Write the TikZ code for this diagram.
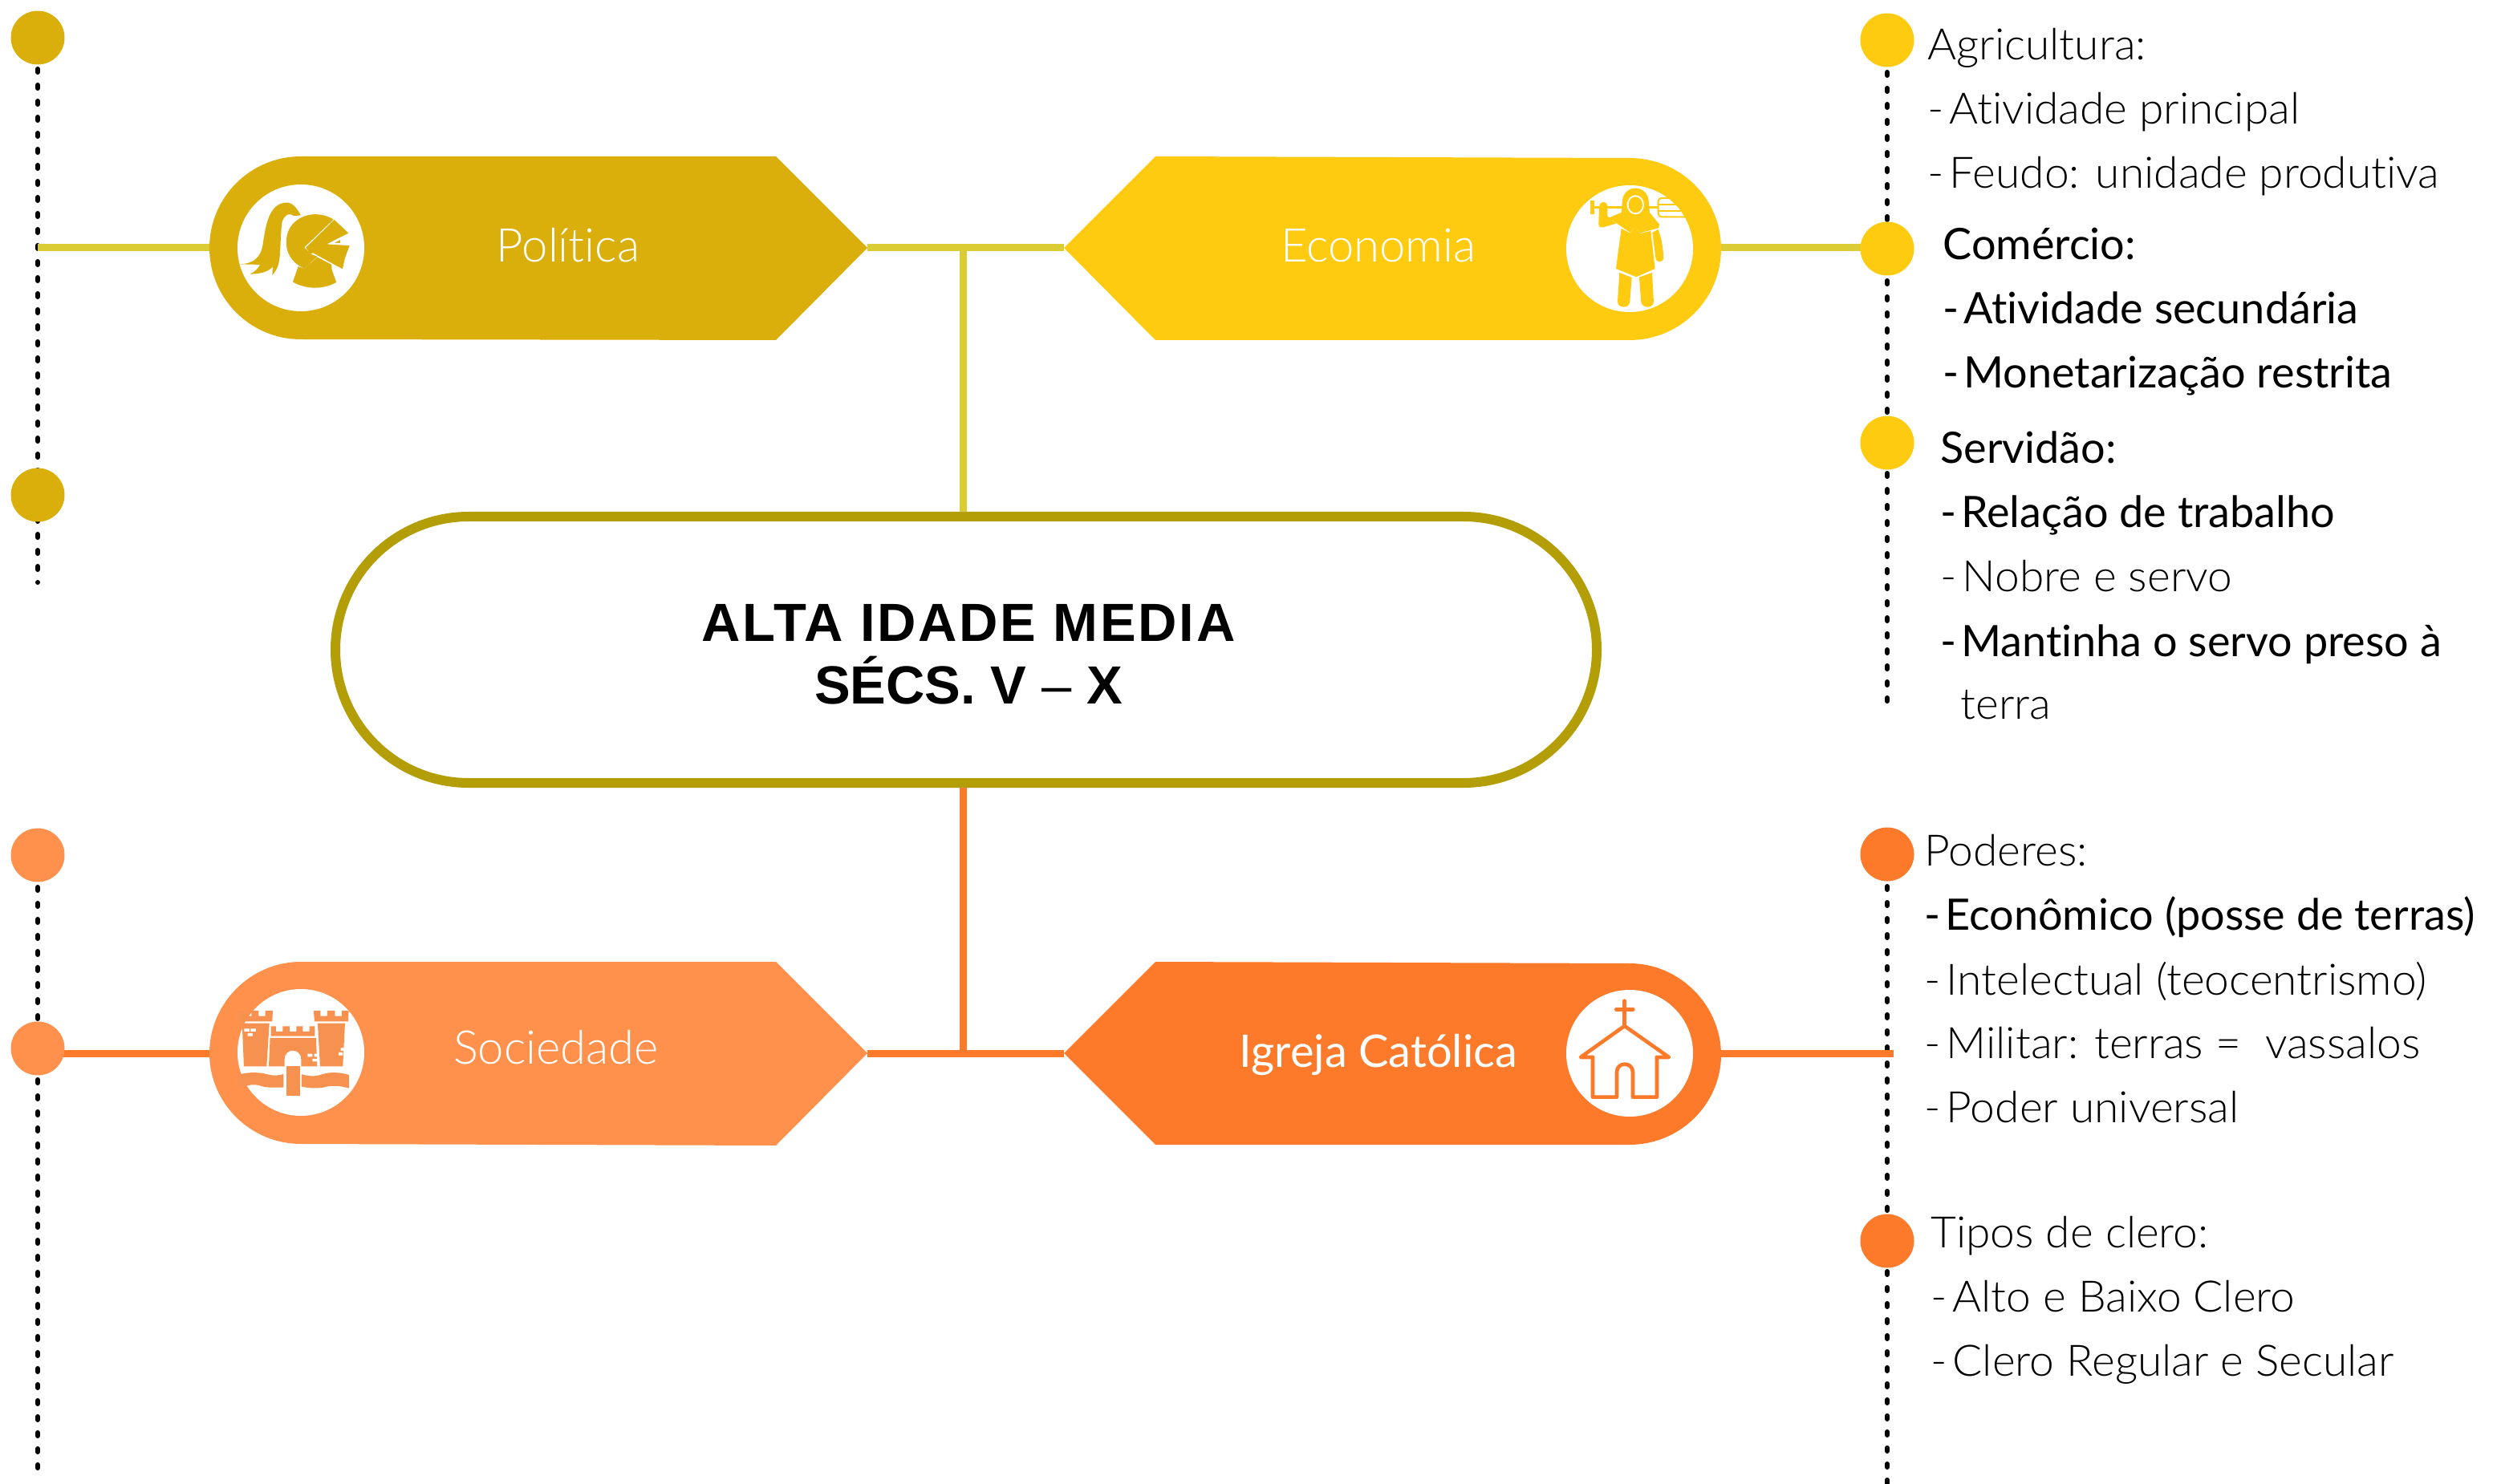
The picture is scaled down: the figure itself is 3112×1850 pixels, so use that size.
\documentclass[tikz,border=0pt]{standalone}
\usepackage{fontspec}
\setmainfont{Lato Light}
\newfontfamily\lightf[Ligatures=NoCommon,FakeStretch=1.02]{Lato Light}
\newfontfamily\labf[Ligatures=NoCommon]{Lato Light}
\newfontfamily\medf[Ligatures=NoCommon]{Lato}
\newfontfamily\titlef{Liberation Sans Bold}
\newfontfamily\titlew[LetterSpace=4]{Liberation Sans Bold}
\newfontfamily\titled{Liberation Sans}
\newcommand{\hy}{-\kern-4pt\ }
\definecolor{gold}{HTML}{DAAF0C}
\definecolor{amber}{HTML}{FFCB11}
\definecolor{peach}{HTML}{FF914D}
\definecolor{orng}{HTML}{FD7A2B}
\definecolor{olive}{HTML}{B39E08}
\definecolor{lineyel}{HTML}{DBCC33}
\definecolor{castle}{HTML}{F6914F}
\tikzset{
  conn/.style={line width=4.5pt},
  dots/.style={line width=3pt,black,line cap=round,dash pattern=on 2pt off 8pt},
  dot/.style={circle,minimum size=33.5pt,inner sep=0pt,fill=#1},
  disc/.style={circle,minimum size=79pt,inner sep=0pt,fill=white},
  lab/.style={text=white,font=\labf\fontsize{29}{31}\selectfont,inner sep=0pt},
  line/.style={anchor=base west,inner sep=0pt,text=black,font=\lightf\fontsize{27}{30}\selectfont},
  mline/.style={anchor=base west,inner sep=0pt,text=black,font=\medf\fontsize{27}{30}\selectfont},
  ttl/.style={anchor=base,inner sep=0pt,text=black,font=\titlef\fontsize{33.5}{36}\selectfont},
  main/.style={rounded rectangle,draw=olive,line width=6pt,fill=white,minimum width=786pt,minimum height=166pt,inner sep=0pt}
}
\usetikzlibrary{shapes.misc}
\begin{document}
\begin{tikzpicture}[x=0.5pt,y=-0.5pt]
\useasboundingbox (0,0) rectangle (3112,1850);
% anchor coordinates
\coordinate (ltA) at (47,46); \coordinate (ltB) at (47,726);
\coordinate (lbA) at (47,1066); \coordinate (lbB) at (47,1830);
\coordinate (rtA) at (2352,50); \coordinate (rtB) at (2352,884);
\coordinate (rbA) at (2352,1065); \coordinate (rbB) at (2352,1855);
\coordinate (jt) at (1200,309); \coordinate (jb) at (1200,1313);
\coordinate (polL) at (261,309); \coordinate (polR) at (1081,309);
\coordinate (ecoL) at (1326,309); \coordinate (ecoR) at (2145,309);
\coordinate (socL) at (261,1313); \coordinate (socR) at (1081,1313);
\coordinate (igrL) at (1326,1313); \coordinate (igrR) at (2145,1313);
\coordinate (lmt) at (47,309); \coordinate (lmb) at (47,1313);
\coordinate (rmt) at (2352,309); \coordinate (rmb) at (2360,1313);
\node[main] (central) at (1204,810) {};
% dotted
\draw[dots] (ltA) -- (ltB);
\draw[dots] (lbA) -- (lbB);
\draw[dots] (rtA) -- (rtB);
\draw[dots] (rbA) -- (rbB);
% connectors
\draw[conn,lineyel] (lmt) -- (polL);
\draw[conn,lineyel] (polR) -- (ecoL);
\draw[conn,lineyel] (ecoR) -- (rmt);
\draw[conn,lineyel] (jt) -- (jt |- central.north);
\draw[conn,orng] (jb) -- (jb |- central.south);
\draw[conn,orng] (lmb) -- (socL);
\draw[conn,orng] (socR) -- (igrL);
\draw[conn,orng] (igrR) -- (rmb);
% banners
\fill[gold] (375,195) -- (967,195) -- (1081,309) -- (967,424) -- (375,423)
  .. controls (312,423) and (261,372) .. (261,309) .. controls (261,246) and (312,195) .. (375,195) -- cycle;
\fill[amber] (2031,197) -- (1440,195) -- (1326,309) -- (1440,424) -- (2031,424)
  .. controls (2094,424) and (2145,373) .. (2145,310) .. controls (2145,247) and (2094,197) .. (2031,197) -- cycle;
\fill[peach] (375,1199) -- (967,1199) -- (1081,1313) -- (967,1428) -- (375,1426)
  .. controls (312,1426) and (261,1375) .. (261,1313) .. controls (261,1251) and (312,1199) .. (375,1199) -- cycle;
\fill[orng] (2031,1201) -- (1440,1199) -- (1326,1313) -- (1440,1427) -- (2031,1427)
  .. controls (2094,1427) and (2145,1376) .. (2145,1315) .. controls (2145,1254) and (2094,1201) .. (2031,1201) -- cycle;
\node[disc] (dPol) at (375,309) {};
\node[disc] (dEco) at (2031,310) {};
\node[disc] (dSoc) at (375,1312) {};
\node[disc] (dIgr) at (2031,1313) {};
% knight
\begin{scope}[shift={(250,170)},x=0.1666pt,y=-0.1666pt]
\fill[gold] (148,478) .. controls (205,475) and (228,450) .. (235,390) .. controls (245,320) and (262,250) .. (320,248) .. controls (345,246) and (360,270) .. (375,295) -- (350,298) .. controls (335,285) and (315,290) .. (305,320) .. controls (298,360) and (300,440) .. (293,470) .. controls (288,495) and (280,505) .. (268,520) -- (270,488) .. controls (250,510) and (215,515) .. (185,515) .. controls (205,505) and (215,495) .. (222,480) -- cycle;
\fill[gold] (497,311) .. controls (440,275) and (360,290) .. (330,350) .. controls (305,410) and (330,470) .. (388,494) -- (437,450) -- (412,440) -- (388,415) -- cycle;
\fill[gold] (500,312) -- (553,362) -- (472,403) -- (557,409) -- (540,455) -- (531,496) -- (420,436) -- (410,441) -- (394,416) -- cycle;
\draw[white,line width=0.8pt,fill=gold] (525,383) -- (525,402) -- (490,401) -- cycle;
\fill[gold] (365,487) -- (388,494) -- (437,452) -- (490,480) -- (490,497) -- (508,546) .. controls (455,575) and (395,572) .. (345,545) -- cycle;
\end{scope}
% peasant
\begin{scope}[shift={(1930,200)},x=0.1666pt,y=-0.1666pt]
\fill[amber] (157,150) rectangle (170,202);
\fill[amber] (170,170) rectangle (275,181);
\fill[amber] (375,170) rectangle (412,181);
\begin{scope}
\clip (303,330) circle[radius=240];
\draw[amber,line width=1pt,rounded corners=2pt] (510,141) -- (410,141) -- (410,211) -- (510,211);
\draw[amber,line width=1pt] (410,164) -- (510,164);
\draw[amber,line width=1pt] (410,188) -- (510,188);
\end{scope}
\fill[amber] (190,172) .. controls (190,150) and (220,150) .. (220,172) -- (220,208) -- (252,236) -- (205,250) .. controls (195,252) and (187,250) .. (187,238) -- cycle;
\fill[amber] (275,160) .. controls (275,85) and (375,85) .. (375,160) -- (378,195) -- (415,240) -- (411,253) -- (340,272) -- (325,245) -- (305,270) -- (225,215) -- (272,195) -- cycle;
\fill[white] (325,166) ellipse[x radius=32,y radius=36];
\fill[amber] (325,166) ellipse[x radius=26,y radius=30];
\fill[amber] (272,255) -- (305,272) -- (325,245) -- (340,274) -- (382,264) -- (398,405) -- (328,436) -- (252,405) -- cycle;
\fill[amber] (388,270) -- (410,258) .. controls (425,300) and (428,330) .. (430,362) .. controls (430,385) and (400,385) .. (400,362) -- cycle;
\fill[amber] (265,420) -- (311,438) -- (304,530) .. controls (300,555) and (258,555) .. (258,528) -- cycle;
\fill[amber] (339,437) -- (387,420) -- (393,528) .. controls (393,555) and (350,555) .. (346,530) -- cycle;
\end{scope}
% castle
\begin{scope}[shift={(270,1210)},x=0.1666pt,y=-0.1666pt]
\fill[castle] (78,150) -- (105,150) -- (105,170) -- (130,170) -- (130,150) -- (157,150) -- (157,170) -- (182,170) -- (182,150) -- (210,150) -- (208,190) -- (82,190) -- cycle;
\fill[castle] (95,197) -- (197,197) -- (187,358) -- (102,358) -- cycle;
\fill[castle] (203,208) -- (222,208) -- (222,228) -- (247,228) -- (247,208) -- (273,208) -- (273,228) -- (298,228) -- (298,208) -- (322,208) -- (322,228) -- (347,228) -- (347,208) -- (367,208) -- (367,245) -- (203,245) -- cycle;
\fill[castle] (200,252) -- (372,252) -- (376,358) -- (316,358) -- (316,332) .. controls (316,288) and (254,288) .. (254,332) -- (254,358) -- (195,358) -- cycle;
\fill[castle] (363,150) -- (388,150) -- (388,170) -- (414,170) -- (414,150) -- (442,150) -- (442,170) -- (468,170) -- (468,150) -- (494,150) -- (492,190) -- (366,190) -- cycle;
\fill[castle] (378,197) -- (480,197) -- (472,358) -- (387,358) -- cycle;
\fill[white] (103,217) rectangle (123,228) (127,217) rectangle (147,228) (116,234) rectangle (135,245);
\fill[white] (340,311) rectangle (358,322) (365,311) rectangle (376,322) (358,330) rectangle (376,340);
\fill[white] (464,289) rectangle (480,300) (456,306) rectangle (472,317);
\fill[castle] (78,390) .. controls (120,378) and (160,380) .. (190,388) .. controls (215,395) and (235,392) .. (250,387) -- (250,437) .. controls (220,437) and (190,440) .. (160,430) .. controls (135,422) and (105,432) .. (78,440) -- cycle;
\fill[castle] (318,388) .. controls (345,395) and (365,398) .. (395,388) .. controls (425,378) and (460,380) .. (495,390) -- (495,440) .. controls (460,430) and (430,428) .. (395,438) .. controls (365,442) and (340,438) .. (318,434) -- cycle;
\fill[castle] (261,357) rectangle (312,467);
\end{scope}
% church
\begin{scope}[shift={(1930,1210)},x=0.1666pt,y=-0.1666pt]
\draw[orng,line width=2.3pt,line cap=round,line join=round] (284,113) -- (284,205) (253,145) -- (316,145);
\draw[orng,line width=2.3pt,line cap=round,line join=round] (165,324) -- (120,324) -- (284,207) -- (450,324) -- (405,324);
\draw[orng,line width=2.3pt,line cap=round,line join=round] (165,324) -- (165,473) -- (255,473) -- (255,380) .. controls (255,340) and (315,340) .. (315,380) -- (315,473) -- (405,473) -- (405,324);
\end{scope}
% dots
\node[dot=gold] (d1) at (47,47) {};
\node[dot=gold] (d2) at (47,617) {};
\node[dot=peach] (d3) at (47,1066) {};
\node[dot=peach] (d4) at (47,1307) {};
\node[dot=amber] (d5) at (2352,50) {};
\node[dot=amber] (d6) at (2352,310) {};
\node[dot=amber] (d7) at (2352,552) {};
\node[dot=orng] (d8) at (2352,1065) {};
\node[dot=orng] (d9) at (2352,1547) {};
% labels
\node[lab] (tPol) at (708,306) {Política};
\node[lab] (tEco) at (1718,306) {Economia};
\node[lab] (tSoc) at (693,1306) {Sociedade};
\node[lab,font=\medf\fontsize{28}{30}\selectfont] (tIgr) at (1718,1315) {Igreja Católica};
\node[ttl,font=\titlew\fontsize{33.5}{36}\selectfont] (t1) at (1207,799) {ALTA IDADE MEDIA};
\node[ttl] (t2) at (1207,877) {SÉCS. V {\titled –} X};
% text
\node[line] (a1) at (2402,75) {Agricultura:};
\node[line] (a2) at (2402,155) {\hy Atividade principal};
\node[line] (a3) at (2402,235) {\hy Feudo: unidade produtiva};
\node[mline] (b1) at (2421,324) {Comércio:};
\node[mline] (b2) at (2421,404) {\hy Atividade secundária};
\node[mline] (b3) at (2421,484) {\hy Monetarização restrita};
\node[mline] (c1) at (2418,578) {Servidão:};
\node[mline] (c2) at (2418,658) {\hy Relação de trabalho};
\node[line] (c3) at (2418,738) {\hy Nobre e servo};
\node[mline] (c4) at (2418,818) {\hy Mantinha o servo preso à};
\node[line] (c5) at (2443,896) {terra};
\node[line] (e1) at (2398,1079) {Poderes:};
\node[mline] (e2) at (2398,1159) {\hy Econômico (posse de terras)};
\node[line] (e3) at (2398,1240) {\hy Intelectual (teocentrismo)};
\node[line] (e4) at (2398,1319) {\hy Militar: terras =\ \ vassalos};
\node[line] (e5) at (2398,1399) {\hy Poder universal};
\node[line] (f1) at (2406,1555) {Tipos de clero:};
\node[line] (f2) at (2406,1635) {\hy Alto e Baixo Clero};
\node[line] (f3) at (2406,1715) {\hy Clero Regular e Secular};
\end{tikzpicture}
\end{document}
